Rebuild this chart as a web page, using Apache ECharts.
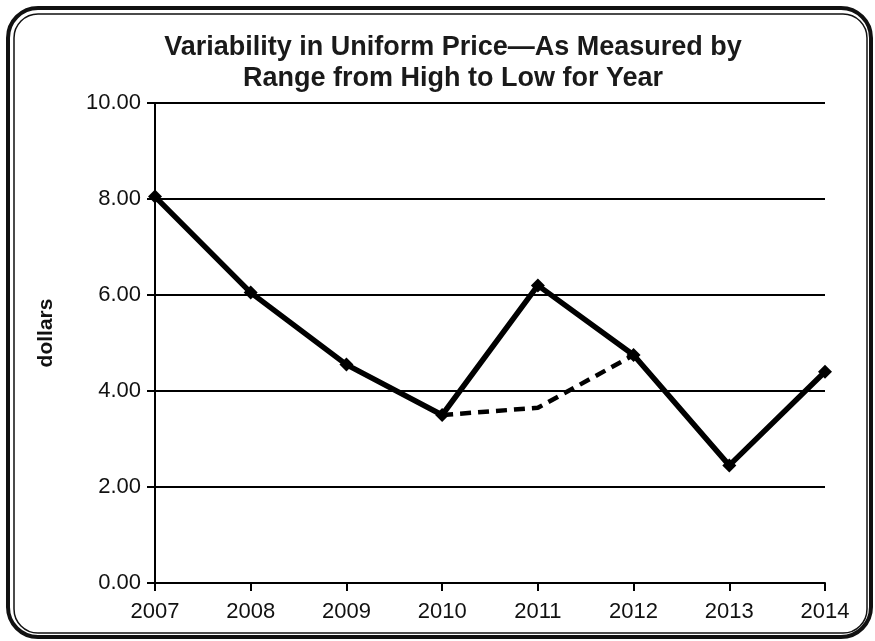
<!DOCTYPE html>
<html><head><meta charset="utf-8">
<script src="https://cdn.jsdelivr.net/npm/echarts@6/dist/echarts.min.js"></script>
<style>html,body{margin:0;padding:0;background:#fff}#c{width:875px;height:641px}</style>
</head><body><div id="c"></div>
<script>
var years = ['2007','2008','2009','2010','2011','2012','2013','2014'];
var solidValues = [8.05, 6.05, 4.55, 3.50, 6.20, 4.75, 2.45, 4.40];
var dashedValues = [null, null, null, 3.50, 3.65, 4.75, null, null];
var titleLines = ['Variability in Uniform Price\u2014As Measured by', 'Range from High to Low for Year'];

var chart = echarts.init(document.getElementById('c'));
chart.setOption({
  animation: false,
  backgroundColor: '#fff',
  title: {
    text: titleLines.join('\n'),
    left: 448, top: 27, textAlign: 'center',
    textStyle: {fontFamily: 'Liberation Sans, Arial', fontWeight: 'bold', fontSize: 27, lineHeight: 31, color: '#1a1a1a'}
  },
  graphic: [
    {type: 'rect', shape: {x: 8, y: 8, width: 863, height: 629, r: 30}, style: {fill: 'none', stroke: '#111', lineWidth: 4}},
    {type: 'rect', shape: {x: 14, y: 14, width: 853, height: 619, r: 24}, style: {fill: 'none', stroke: '#111', lineWidth: 1.5}}
  ],
  grid: {left: 155, right: 50, top: 103, bottom: 58, containLabel: false},
  xAxis: {
    type: 'category', data: years, boundaryGap: false,
    axisLine: {lineStyle: {color: '#000', width: 2}},
    axisTick: {show: true, length: 8, lineStyle: {color: '#000', width: 2}},
    axisLabel: {color: '#111', fontFamily: 'Liberation Sans, Arial', fontSize: 22, margin: 18}
  },
  yAxis: {
    type: 'value', min: 0, max: 10, interval: 2,
    name: 'dollars', nameLocation: 'middle', nameGap: 98,
    nameTextStyle: {fontFamily: 'Liberation Sans, Arial', fontWeight: 'bold', fontSize: 21, color: '#111', padding: [0, 0, 0, 20]},
    axisLine: {show: true, lineStyle: {color: '#000', width: 2}},
    axisTick: {show: true, length: 8, lineStyle: {color: '#000', width: 2}},
    splitLine: {show: true, lineStyle: {color: '#000', width: 2}},
    axisLabel: {color: '#111', fontFamily: 'Liberation Sans, Arial', fontSize: 22, margin: 14,
      formatter: function (v) { return v.toFixed(2); }}
  },
  series: [
    {type: 'line', data: dashedValues, connectNulls: false, symbol: 'none',
      lineStyle: {color: '#000', width: 4.5, type: [11, 7]}, z: 2},
    {type: 'line', data: solidValues, symbol: 'diamond', symbolSize: 14,
      itemStyle: {color: '#000'}, lineStyle: {color: '#000', width: 5.5}, z: 3}
  ]
});
</script></body></html>
